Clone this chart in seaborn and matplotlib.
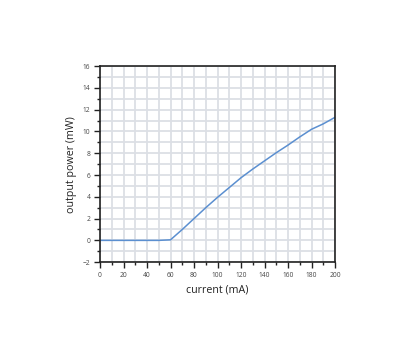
import matplotlib
matplotlib.use("Agg")
import matplotlib.pyplot as plt
from matplotlib.ticker import MultipleLocator
import seaborn as sns
import pandas as pd

current_mA = [0, 10, 20, 30, 40, 50, 60, 70, 80, 90, 100, 110, 120, 130, 140, 150, 160, 170, 180, 190, 200]
power_mW = [0, 0, 0, 0, 0, 0, 0.05, 1.0, 2.0, 3.0, 3.95, 4.85, 5.75, 6.55, 7.3, 8.05, 8.75, 9.5, 10.2, 10.7, 11.3]

df = pd.DataFrame({"current": current_mA, "power": power_mW})

sns.set_style("white")
plt.rcParams['font.family'] = ['Open Sans', 'DejaVu Sans']

fig = plt.figure(figsize=(4, 3.5), dpi=100)
ax = fig.add_axes([0.25, 0.251, 0.5875, 0.56])

sns.lineplot(data=df, x="current", y="power", ax=ax, color="#5b8fd0", linewidth=1.1)

ax.set_xlim(0, 200)
ax.set_ylim(-2, 16)
ax.xaxis.set_major_locator(MultipleLocator(20))
ax.xaxis.set_minor_locator(MultipleLocator(10))
ax.yaxis.set_major_locator(MultipleLocator(2))
ax.yaxis.set_minor_locator(MultipleLocator(1))
ax.grid(True, which="both", color="#dcdfe5", linewidth=1.3)
ax.set_axisbelow(True)
for s in ax.spines.values():
    s.set_color("#222222")
    s.set_linewidth(1.2)
ax.tick_params(which="major", direction="out", length=4, width=1, color="#222222",
               labelsize=4.8, labelcolor="#444444", pad=3, bottom=True, left=True)
ax.tick_params(which="minor", direction="out", length=2, width=1, color="#222222",
               bottom=True, left=True)
ax.set_xlabel("current (mA)", fontsize=7.7, color="#222222", labelpad=4)
ax.set_ylabel("output power (mW)", fontsize=7.7, color="#222222", labelpad=4)

fig.savefig("out.png", dpi=100)
